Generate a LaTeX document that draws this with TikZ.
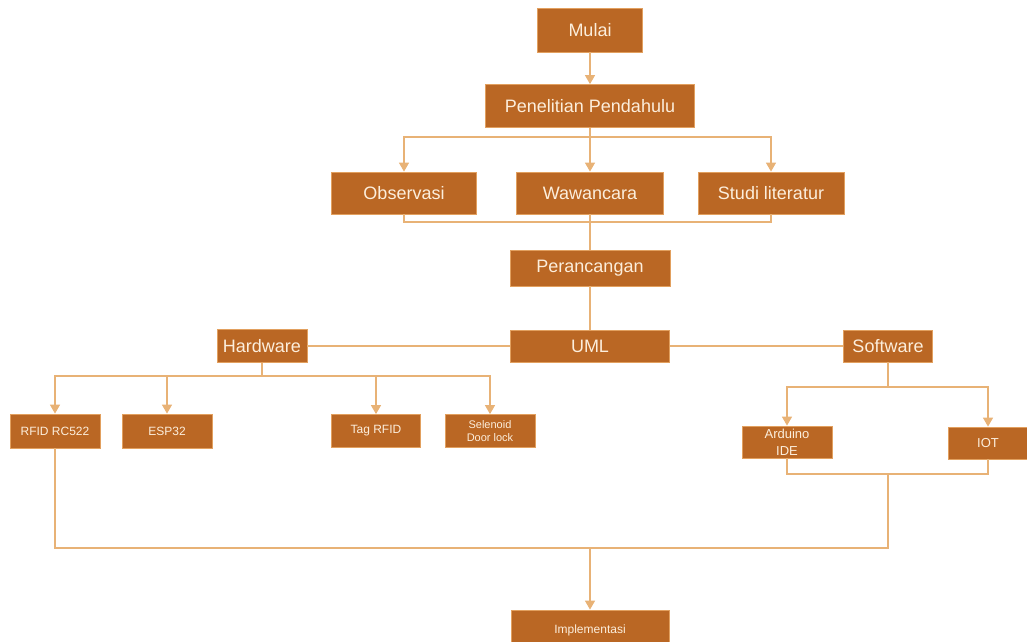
\documentclass[tikz,border=0pt]{standalone}
\usepackage{fontspec}
\setmainfont{Liberation Sans}
\usetikzlibrary{arrows.meta}
\definecolor{boxfill}{RGB}{186,103,36}
\definecolor{boxline}{RGB}{226,160,95}
\definecolor{wire}{RGB}{232,178,118}
\definecolor{ink}{RGB}{252,238,220}
\tikzset{
  box/.style={draw=boxline, line width=0.8pt, fill=boxfill, text=ink, inner sep=0pt, align=center, font=\fontsize{18}{20}\selectfont},
  small/.style={box, font=\fontsize{12}{13}\selectfont},
  wire/.style={draw=wire, line width=1.4pt},
  arr/.style={wire, -{Triangle[width=10pt,length=9pt]}}
}
\begin{document}
\begin{tikzpicture}[x=1pt,y=-1pt]
\useasboundingbox (0,0) rectangle (1027,641);
\node[box, minimum width=105pt, minimum height=44pt] (mulai) at (590,30) {Mulai};
\node[box, minimum width=209pt, minimum height=43pt] (pp) at (590,106) {Penelitian Pendahulu};
\node[box, minimum width=145pt, minimum height=42pt] (obs) at (404,193) {Observasi};
\node[box, minimum width=147pt, minimum height=42pt] (waw) at (590,193) {Wawancara};
\node[box, minimum width=146pt, minimum height=42pt] (stud) at (771,193) {Studi literatur};
\node[box, minimum width=160pt, minimum height=36pt] (per) at (590,268) {Perancangan};
\node[box, minimum width=159pt, minimum height=32pt] (uml) at (590,346) {UML};
\node[box, minimum width=90pt, minimum height=33pt] (hw) at (262,346) {Hardware};
\node[box, minimum width=89pt, minimum height=32pt] (sw) at (888,346) {Software};
\node[small, minimum width=90pt, minimum height=34pt] (rfid) at (55,431) {RFID RC522};
\node[small, minimum width=90pt, minimum height=34pt] (esp) at (167,431) {ESP32};
\node[small, minimum width=89pt, minimum height=33pt] (tag) at (376,431) {Tag RFID};
\node[small, minimum width=90pt, minimum height=33pt, font=\fontsize{11}{13}\selectfont] (sel) at (490,431) {Selenoid\\Door lock};
\node[small, minimum width=90pt, minimum height=32pt, font=\fontsize{13}{17}\selectfont] (ard) at (787,442) {Arduino\\IDE};
\node[small, minimum width=80pt, minimum height=32pt, font=\fontsize{13}{15}\selectfont] (iot) at (988,443) {IOT};
\node[small, minimum width=158pt, minimum height=40pt] (impl) at (590,630) {Implementasi};
% cabang atas
\coordinate (ppsplit) at (590,137);
\coordinate (obsmerge) at (590,222);
\draw[arr] (mulai) -- (pp);
\draw[wire] (pp.south) -- (ppsplit);
\draw[arr] (ppsplit) -| (obs.north);
\draw[arr] (ppsplit) -- (waw.north);
\draw[arr] (ppsplit) -| (stud.north);
\draw[wire] (obs.south) |- (obsmerge) -| (stud.south);
\draw[wire] (waw.south) -- (per.north);
\draw[wire] (per.south) -- (uml.north);
\draw[wire] (uml.west) -- (hw.east);
\draw[wire] (uml.east) -- (sw.west);
% hardware
\coordinate (hwsplit) at (262,376);
\draw[wire] (hw.south) -- (hwsplit);
\foreach \n in {rfid,esp,tag,sel}
  \draw[arr] (hwsplit) -| (\n.north);
% software
\coordinate (swsplit) at (888,387);
\coordinate (swmerge) at (888,474);
\draw[wire] (sw.south) -- (swsplit);
\draw[arr] (swsplit) -| (ard.north);
\draw[arr] (swsplit) -| (iot.north);
\draw[wire] (ard.south) |- (swmerge) -| (iot.south);
% gabung ke implementasi
\coordinate (allmerge) at (590,548);
\draw[wire] (rfid.south) |- (allmerge) -| (swmerge);
\draw[arr] (allmerge) -- (impl.north);
\end{tikzpicture}
\end{document}
